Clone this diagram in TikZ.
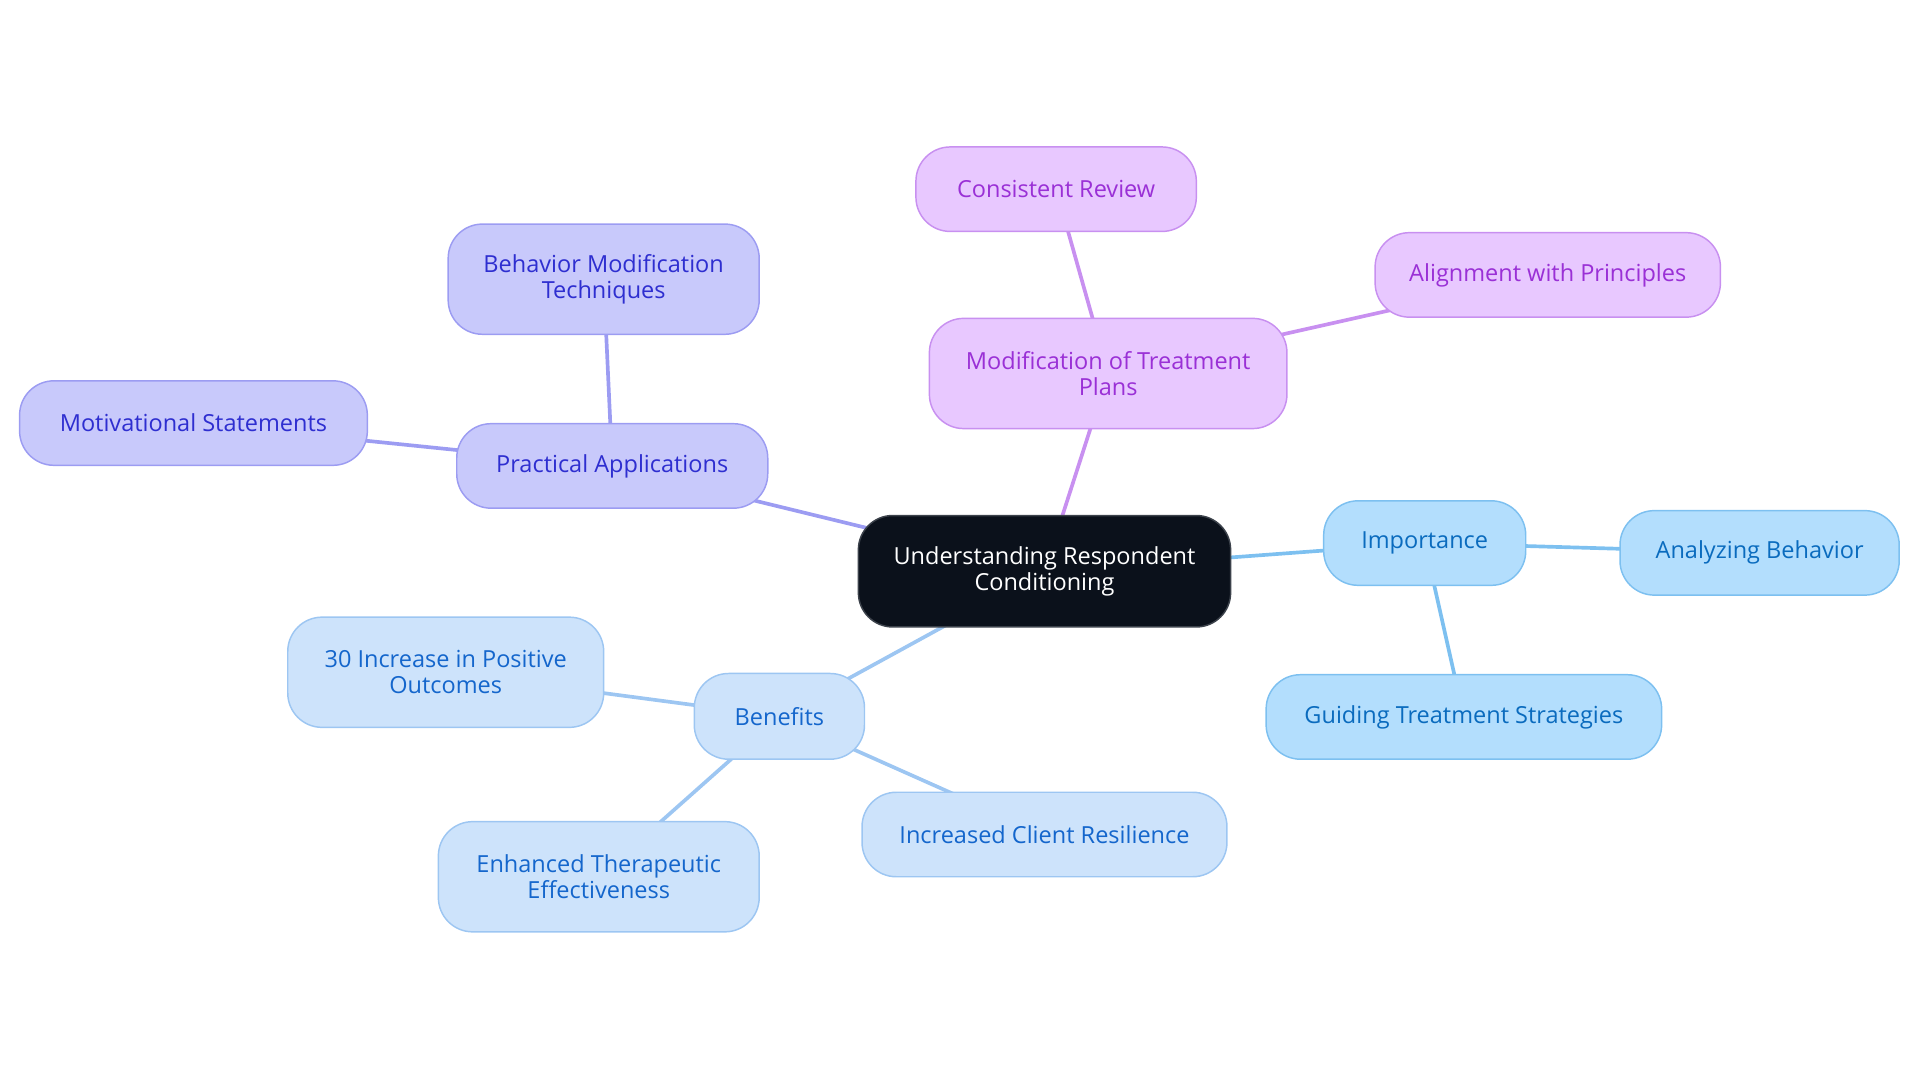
\documentclass[tikz,border=0pt]{standalone}
\usepackage{fontspec}
\setmainfont{Open Sans}
\usetikzlibrary{backgrounds}
\definecolor{rootfill}{HTML}{0B111B}
\definecolor{rootdraw}{HTML}{3C424B}
\definecolor{pafill}{HTML}{C8C9FB}
\definecolor{padraw}{HTML}{9C9CF2}
\definecolor{patext}{HTML}{2E2ED0}
\definecolor{modfill}{HTML}{E8C8FF}
\definecolor{moddraw}{HTML}{C890F0}
\definecolor{modtext}{HTML}{9A30D6}
\definecolor{impfill}{HTML}{B3DEFD}
\definecolor{impdraw}{HTML}{7DC0F0}
\definecolor{imptext}{HTML}{0A6BBE}
\definecolor{benfill}{HTML}{CDE3FB}
\definecolor{bendraw}{HTML}{9DC6F2}
\definecolor{bentext}{HTML}{1466CC}
\begin{document}
\begin{tikzpicture}[x=0.5pt,y=-0.5pt,
  box/.style={rounded corners=14pt, line width=0.6pt, align=center, inner sep=0pt,
    font=\fontsize{9.6}{10.5}\selectfont},
  rootbox/.style={box, fill=rootfill, draw=rootdraw, text=white},
  pabox/.style={box, fill=pafill, draw=padraw, text=patext},
  modbox/.style={box, fill=modfill, draw=moddraw, text=modtext},
  impbox/.style={box, fill=impfill, draw=impdraw, text=imptext},
  benbox/.style={box, fill=benfill, draw=bendraw, text=bentext},
  link/.style={line width=1.5pt}
]
\useasboundingbox (0,0) rectangle (1568,884.5);
\node[rootbox, minimum width=152pt, minimum height=45.5pt] (root) at (853,466.5) {Understanding Respondent\\Conditioning};
\node[pabox, minimum width=127pt, minimum height=34.5pt] (pa) at (500,380.5) {Practical Applications};
\node[pabox, minimum width=127pt, minimum height=45pt] (bmt) at (493,228) {Behavior Modification\\Techniques};
\node[pabox, minimum width=142pt, minimum height=34.5pt] (ms) at (158,345.5) {Motivational Statements};
\node[modbox, minimum width=146pt, minimum height=45pt] (mod) at (905,305) {Modification of Treatment\\Plans};
\node[modbox, minimum width=114.5pt, minimum height=34.5pt] (cr) at (862.5,154.5) {Consistent Review};
\node[modbox, minimum width=141pt, minimum height=34.5pt] (ap) at (1264,224.5) {Alignment with Principles};
\node[impbox, minimum width=82.5pt, minimum height=34.5pt] (imp) at (1163.5,443.5) {Importance};
\node[impbox, minimum width=114pt, minimum height=34.5pt] (ab) at (1437,451.5) {Analyzing Behavior};
\node[impbox, minimum width=161.5pt, minimum height=34.5pt] (gts) at (1195.5,585.5) {Guiding Treatment Strategies};
\node[benbox, minimum width=69.5pt, minimum height=35pt] (ben) at (636.5,585) {Benefits};
\node[benbox, minimum width=129pt, minimum height=45pt] (pos) at (364,549) {30 Increase in Positive\\Outcomes};
\node[benbox, minimum width=131pt, minimum height=45pt] (ete) at (489,716) {Enhanced Therapeutic\\Effectiveness};
\node[benbox, minimum width=149pt, minimum height=34.5pt] (icr) at (853,681.5) {Increased Client Resilience};
\begin{scope}[on background layer]
\draw[link, padraw] (root.center) -- (pa.center);
\draw[link, padraw] (pa.center) -- (bmt.center);
\draw[link, padraw] (pa.center) -- (ms.center);
\draw[link, moddraw] (root.center) -- (mod.center);
\draw[link, moddraw] (mod.center) -- (cr.center);
\draw[link, moddraw] (mod.center) -- (ap.center);
\draw[link, impdraw] (root.center) -- (imp.center);
\draw[link, impdraw] (imp.center) -- (ab.center);
\draw[link, impdraw] (imp.center) -- (gts.center);
\draw[link, bendraw] (root.center) -- (ben.center);
\draw[link, bendraw] (ben.center) -- (pos.center);
\draw[link, bendraw] (ben.center) -- (ete.center);
\draw[link, bendraw] (ben.center) -- (icr.center);
\end{scope}
\end{tikzpicture}
\end{document}
